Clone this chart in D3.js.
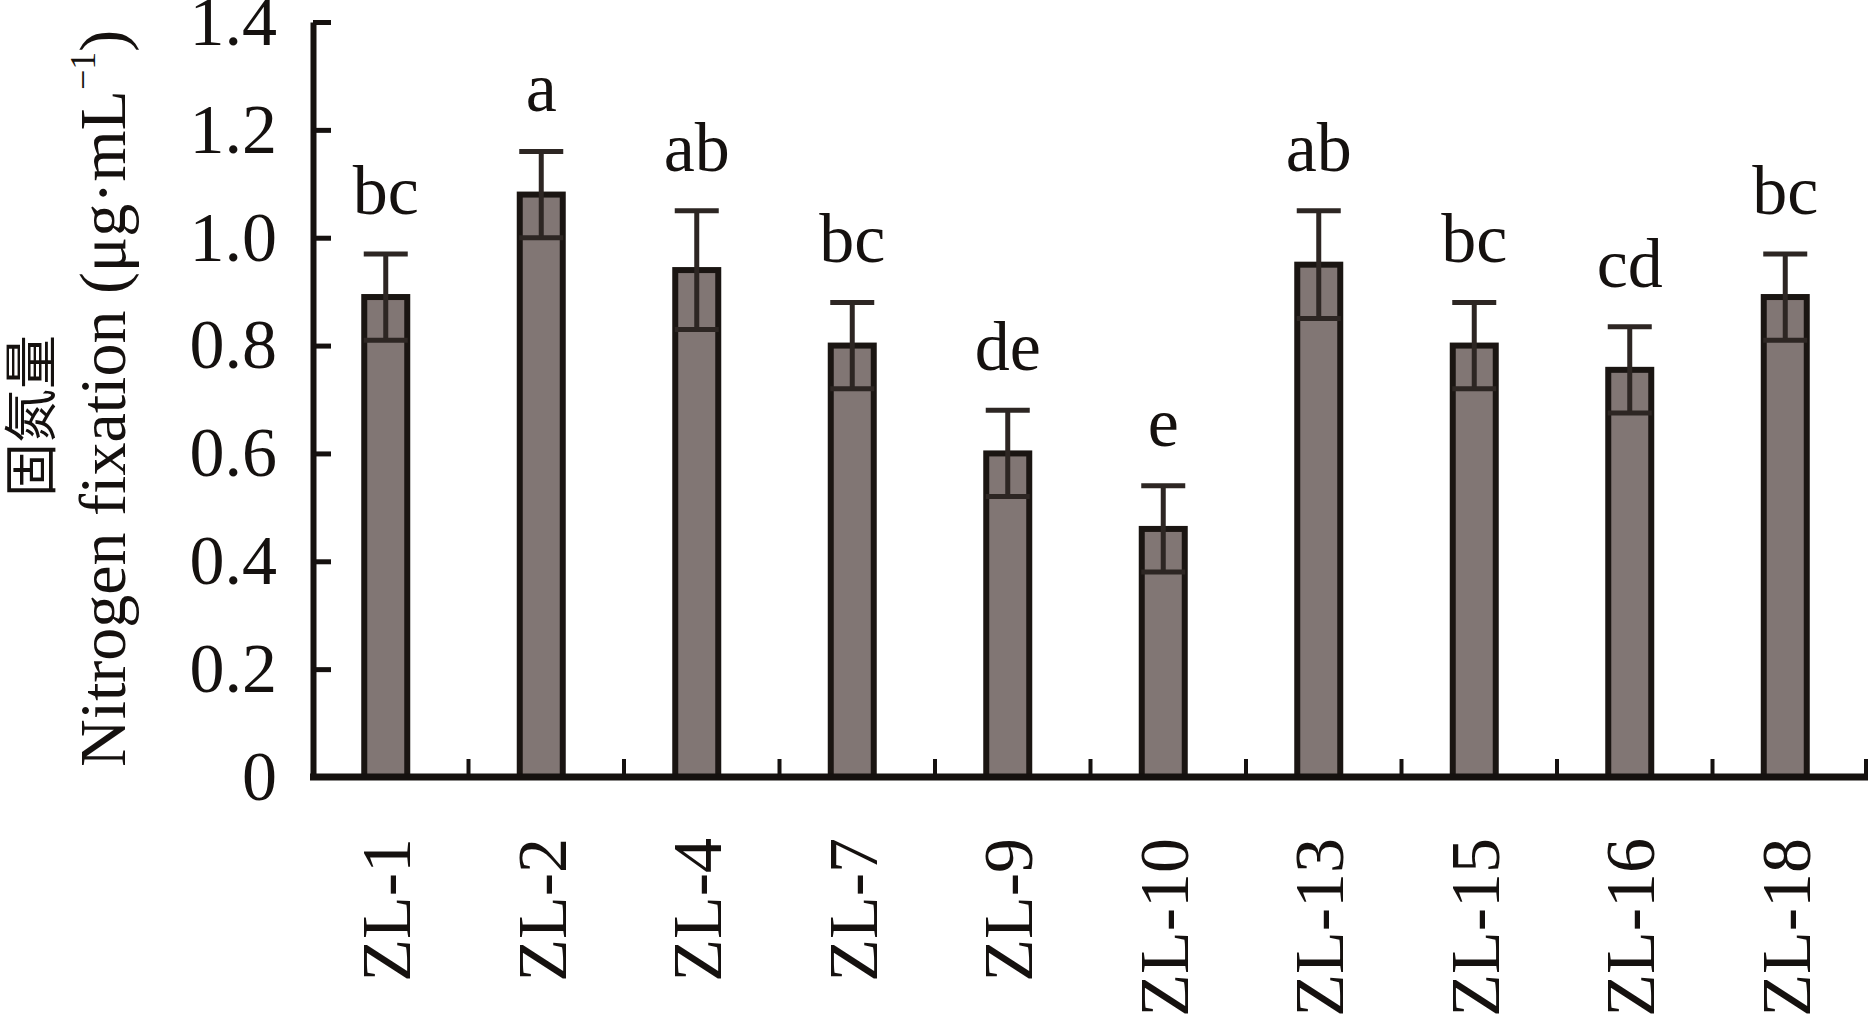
<!DOCTYPE html>
<html>
<head>
<meta charset="utf-8">
<script src="https://cdn.jsdelivr.net/npm/d3@7"></script>
<style>
  body { margin: 0; background: #fff; }
  text { font-family: "Liberation Serif", "Times New Roman", serif; fill: #15110f; }
  .cn { font-family: "Noto Sans CJK SC", sans-serif; }
</style>
</head>
<body>
<div id="viz"></div>
<script>
var strains = ["ZL-1", "ZL-2", "ZL-4", "ZL-7", "ZL-9", "ZL-10", "ZL-13", "ZL-15", "ZL-16", "ZL-18"];
var fixation = [0.89, 1.08, 0.94, 0.80, 0.60, 0.46, 0.95, 0.80, 0.755, 0.89];
var errors = [0.08, 0.08, 0.11, 0.08, 0.08, 0.08, 0.10, 0.08, 0.08, 0.08];
var letters = ["bc", "a", "ab", "bc", "de", "e", "ab", "bc", "cd", "bc"];
var yTicks = [0, 0.2, 0.4, 0.6, 0.8, 1.0, 1.2, 1.4];

var width = 1872, height = 1015;
// plot edges (note: "top" is a reserved window property, so use m_ names)
var m_left = 313, m_right = 1868, m_top = 22, m_bottom = 777;

var svg = d3.select("#viz").append("svg").attr("width", width).attr("height", height);

var x = d3.scaleBand().domain(strains).range([m_left, m_right]);
var y = d3.scaleLinear().domain([0, 1.4]).range([m_bottom, m_top]);

var barW = 43, shift = -5;
function cx(d) { return x(d) + x.bandwidth() / 2 + shift; }

var data = strains.map(function(s, i) {
  return { name: s, value: fixation[i], err: errors[i], letter: letters[i] };
});

// bars
svg.selectAll("rect.bar")
  .data(data)
  .enter().append("rect")
    .attr("class", "bar")
    .attr("x", function(d) { return cx(d.name) - barW / 2; })
    .attr("y", function(d) { return y(d.value); })
    .attr("width", barW)
    .attr("height", function(d) { return m_bottom - y(d.value); })
    .style("fill", "#817674")
    .style("stroke", "#1a1512")
    .style("stroke-width", 6);

// error bars (both directions, lower part sits inside the bar)
var eb = svg.selectAll("g.err")
  .data(data)
  .enter().append("g")
    .attr("class", "err")
    .style("stroke", "#2d2623")
    .style("stroke-width", 5);

eb.append("line")
    .attr("x1", function(d) { return cx(d.name); })
    .attr("x2", function(d) { return cx(d.name); })
    .attr("y1", function(d) { return y(d.value - d.err); })
    .attr("y2", function(d) { return y(d.value + d.err); });

eb.append("line")
    .attr("x1", function(d) { return cx(d.name) - 22; })
    .attr("x2", function(d) { return cx(d.name) + 22; })
    .attr("y1", function(d) { return y(d.value + d.err); })
    .attr("y2", function(d) { return y(d.value + d.err); });

eb.append("line")
    .attr("x1", function(d) { return cx(d.name) - 22; })
    .attr("x2", function(d) { return cx(d.name) + 22; })
    .attr("y1", function(d) { return y(d.value - d.err); })
    .attr("y2", function(d) { return y(d.value - d.err); });

// significance letters
svg.selectAll("text.sig")
  .data(data)
  .enter().append("text")
    .attr("class", "sig")
    .attr("x", function(d) { return cx(d.name); })
    .attr("y", function(d) { return y(d.value + d.err) - 40; })
    .style("text-anchor", "middle")
    .style("font-size", "70px")
    .text(function(d) { return d.letter; });

// y axis
var yAxis = d3.axisLeft(y)
    .tickValues(yTicks)
    .tickSize(-18)
    .tickSizeOuter(0)
    .tickPadding(36)
    .tickFormat(function(d) { return d === 0 ? "0" : d.toFixed(1); });

var gy = svg.append("g")
    .attr("transform", "translate(" + m_left + ",0)")
    .call(yAxis);
gy.select(".domain").attr("stroke", "#15110f").attr("stroke-width", 6);
gy.selectAll(".tick line").attr("stroke", "#15110f").attr("stroke-width", 5);
gy.selectAll(".tick text")
    .style("font-size", "70px")
    .style("font-family", "'Liberation Serif', serif")
    .attr("fill", "#15110f");

// x axis: baseline, ticks between categories, rotated labels
svg.append("line")
    .attr("x1", m_left - 3).attr("x2", m_right)
    .attr("y1", m_bottom).attr("y2", m_bottom)
    .attr("stroke", "#15110f").attr("stroke-width", 7);

var bounds = strains.slice(1).map(function(s) { return x(s); }).concat([m_right - 2]);
svg.selectAll("line.xtick")
  .data(bounds)
  .enter().append("line")
    .attr("class", "xtick")
    .attr("x1", function(d) { return d; }).attr("x2", function(d) { return d; })
    .attr("y1", m_bottom).attr("y2", m_bottom - 18)
    .attr("stroke", "#15110f").attr("stroke-width", 4);

svg.selectAll("text.xlab")
  .data(strains)
  .enter().append("text")
    .attr("class", "xlab")
    .attr("transform", function(d) { return "translate(" + cx(d) + "," + 838 + ") rotate(-90)"; })
    .attr("dy", "0.35em")
    .style("text-anchor", "end")
    .style("font-size", "70px")
    .text(function(d) { return d; });

// y title, two lines
svg.append("text")
    .attr("class", "cn")
    .attr("transform", "translate(32,416) rotate(-90)")
    .attr("dy", "0.35em")
    .style("text-anchor", "middle")
    .style("font-size", "54px")
    .text("固氮量");

var t2 = svg.append("text")
    .attr("transform", "translate(125,767) rotate(-90)")
    .style("text-anchor", "start")
    .style("font-size", "66px");
t2.append("tspan").text("Nitrogen fixation (μg·mL");
t2.append("tspan").attr("dy", -30).style("font-size", "36px").text("−1");
t2.append("tspan").attr("dy", 30).text(")");
</script>
</body>
</html>
